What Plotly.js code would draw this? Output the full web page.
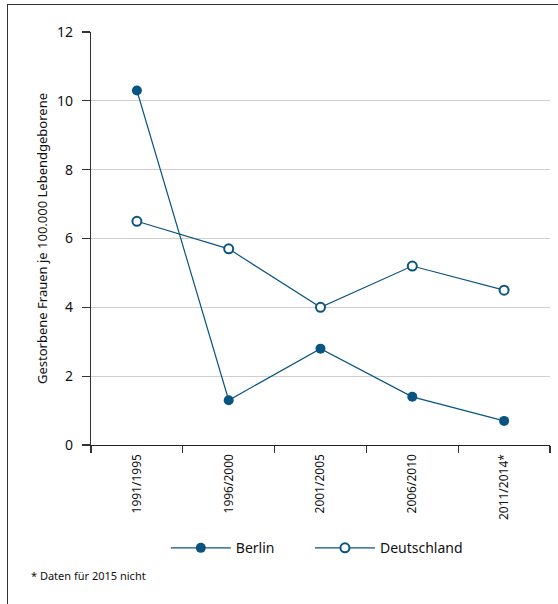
<!DOCTYPE html>
<html>
<head>
<meta charset="utf-8">
<script src="https://cdn.plot.ly/plotly-3.0.1.min.js"></script>
<style>
  html, body { margin: 0; padding: 0; background: #fff; }
  #frame { position: absolute; left: 7px; top: 4px; width: 620px; height: 660px;
           border-left: 1.5px solid #333; border-top: 1.5px solid #333; }
  #chart { position: absolute; left: 0; top: 0; width: 558px; height: 604px; }
</style>
</head>
<body>
<div id="frame"></div>
<div id="chart"></div>
<script>
const categories = ["1991/1995", "1996/2000", "2001/2005", "2006/2010", "2011/2014*"];
const berlin = [10.3, 1.3, 2.8, 1.4, 0.7];
const deutschland = [6.5, 5.7, 4.0, 5.2, 4.5];
const yTitle = "Gestorbene Frauen je 100.000 Lebendgeborene";
const footnote = "* Daten für 2015 nicht";

const blue = "#0a5580";
const font = "Noto Sans, Open Sans, sans-serif";

const traces = [
  {
    x: categories, y: berlin, name: "Berlin", type: "scatter", mode: "lines+markers",
    legend: "legend",
    line: { color: blue, width: 1.2 },
    marker: { symbol: "circle", size: 10, color: blue, line: { color: blue, width: 0 } }
  },
  {
    x: categories, y: deutschland, name: "Deutschland", type: "scatter", mode: "lines+markers",
    legend: "legend2",
    line: { color: blue, width: 1.2 },
    marker: { symbol: "circle", size: 9, color: "#ffffff", line: { color: blue, width: 2 } }
  }
];

const legendStyle = {
  orientation: "h", xanchor: "left", y: -0.25, yanchor: "middle",
  font: { family: font, size: 14, color: "#111" }, itemwidth: 60,
  bgcolor: "rgba(0,0,0,0)"
};

const layout = {
  width: 558, height: 604,
  margin: { l: 91, r: 8, t: 32, b: 159 },
  paper_bgcolor: "rgba(0,0,0,0)",
  plot_bgcolor: "rgba(0,0,0,0)",
  font: { family: font, size: 13, color: "#111" },
  showlegend: true,
  legend: Object.assign({}, legendStyle, { x: 0.163 }),
  legend2: Object.assign({}, legendStyle, { x: 0.477 }),
  xaxis: {
    type: "category",
    tickson: "boundaries",
    ticks: "outside", ticklen: 7, tickcolor: "#333", tickwidth: 1.2,
    showline: true, linecolor: "#222", linewidth: 1.3,
    showgrid: false, zeroline: false,
    tickangle: -90,
    ticklabelstandoff: 3,
    tickfont: { family: font, size: 12, color: "#111" },
    range: [-0.5, 4.5]
  },
  yaxis: {
    range: [0, 12], dtick: 2, tick0: 0,
    ticks: "outside", ticklen: 8, tickcolor: "#333", tickwidth: 1.2,
    showline: true, linecolor: "#333", linewidth: 1.2,
    showgrid: true, gridcolor: "#cfcfcf", gridwidth: 1,
    zeroline: false,
    ticklabelstandoff: 6,
    tickfont: { family: font, size: 14, color: "#111" },
    title: { text: yTitle, font: { family: font, size: 13, color: "#111" }, standoff: 6 }
  },
  annotations: [
    {
      text: footnote, xref: "paper", yref: "paper",
      x: -0.135, y: -0.317, xanchor: "left", yanchor: "middle",
      showarrow: false, font: { family: font, size: 11, color: "#111" }
    }
  ]
};

Plotly.newPlot("chart", traces, layout, { displayModeBar: false, staticPlot: true });
</script>
</body>
</html>
